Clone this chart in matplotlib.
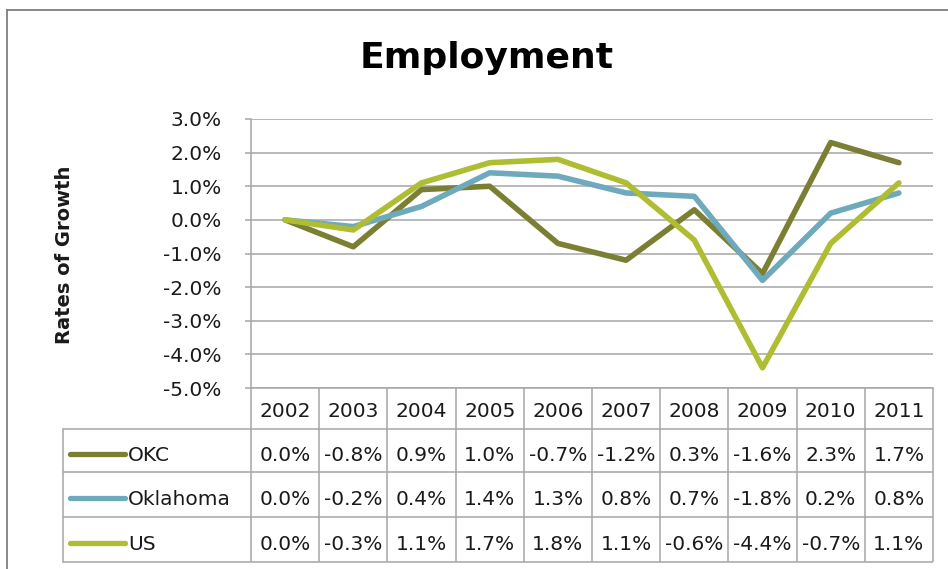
import matplotlib
matplotlib.use("Agg")
import matplotlib.pyplot as plt
from matplotlib.transforms import blended_transform_factory

# growth rates in percent
years = ["2002", "2003", "2004", "2005", "2006", "2007", "2008", "2009", "2010", "2011"]
okc = [0.0, -0.8, 0.9, 1.0, -0.7, -1.2, 0.3, -1.6, 2.3, 1.7]
oklahoma = [0.0, -0.2, 0.4, 1.4, 1.3, 0.8, 0.7, -1.8, 0.2, 0.8]
us = [0.0, -0.3, 1.1, 1.7, 1.8, 1.1, -0.6, -4.4, -0.7, 1.1]
series_names = ["OKC", "Oklahoma", "US"]
yticks = [-5, -4, -3, -2, -1, 0, 1, 2, 3]

colors = ["#7b7f33", "#6eaabb", "#aebd31"]
grid_col = "#a6a6a6"
txt_col = "#1a1a1a"
font = "DejaVu Sans"

W, H = 948, 569
fig = plt.figure(figsize=(W / 100, H / 100), dpi=100)

# plot area in pixel terms
left, right, top, bottom = 251, 933, 119, 388
ax = fig.add_axes([left / W, 1 - bottom / H, (right - left) / W, (bottom - top) / H])
ax.set_facecolor("none")

x = list(range(len(years)))
for vals, c in zip([okc, oklahoma, us], colors):
    ax.plot(x, vals, color=c, lw=4, solid_joinstyle="round", solid_capstyle="round", zorder=3)

ax.set_xlim(-0.5, len(years) - 0.5)
ax.set_ylim(-5, 3)
ax.set_yticks(yticks)
ax.set_yticklabels([f"{v:.1f}%" for v in yticks], fontsize=14.5, color=txt_col, family=font)
ax.set_xticks([])
ax.tick_params(axis="y", length=4, width=1.1, color=grid_col, pad=17)
ax.yaxis.grid(True, color=grid_col, lw=1.1)
ax.set_axisbelow(True)
for s in ["top", "right"]:
    ax.spines[s].set_visible(False)
for s in ["left", "bottom"]:
    ax.spines[s].set_color(grid_col)
    ax.spines[s].set_linewidth(1.1)

fig.text(487 / W, 1 - 58 / H, "Employment", ha="center", va="center",
         fontsize=26, fontweight="bold", color="black", family=font)
fig.text(65 / W, 1 - 255 / H, "Rates of Growth", ha="center", va="center",
         rotation=90, fontsize=14, fontweight="bold", color=txt_col, family=font)

# overlay in pixel coordinates for the data table and chart border
tab = fig.add_axes([0, 0, 1, 1])
tab.set_xlim(0, W)
tab.set_ylim(H, 0)
tab.axis("off")
tab.patch.set_visible(False)
blend = blended_transform_factory(ax.transData, tab.transData)

row_edges = [388, 429, 472, 517, 562]
lbl_left = 63

# column lines
for j in range(len(years) + 1):
    tab.plot([j - 0.5, j - 0.5], [row_edges[0], row_edges[-1]], color=grid_col, lw=1.1,
             transform=blend, solid_capstyle="butt")
# row lines
for yy in row_edges[1:]:
    tab.plot([lbl_left, right], [yy, yy], color=grid_col, lw=1.1, solid_capstyle="butt")
tab.plot([lbl_left, lbl_left], [row_edges[1], row_edges[-1]], color=grid_col, lw=1.1)

# header
hy = (row_edges[0] + row_edges[1]) / 2 + 3
for j, yr in enumerate(years):
    tab.text(j, hy, yr, transform=blend, ha="center", va="center",
             fontsize=14.5, color=txt_col, family=font)

# rows
for r, (name, vals, c) in enumerate(zip(series_names, [okc, oklahoma, us], colors)):
    yc = (row_edges[r + 1] + row_edges[r + 2]) / 2 + 5
    tab.plot([70, 125], [yc - 2, yc - 2], color=c, lw=3.8, solid_capstyle="round")
    tab.text(128, yc, name, ha="left", va="center", fontsize=14.5, color=txt_col, family=font)
    for j, v in enumerate(vals):
        tab.text(j, yc, f"{v:.1f}%", transform=blend, ha="center", va="center",
                 fontsize=14.5, color=txt_col, family=font)

# chart border
tab.plot([7, W], [10, 10], color="#7f7f7f", lw=1.3)
tab.plot([7, 7], [10, H], color="#7f7f7f", lw=1.3)

fig.savefig("out.png", dpi=100)
